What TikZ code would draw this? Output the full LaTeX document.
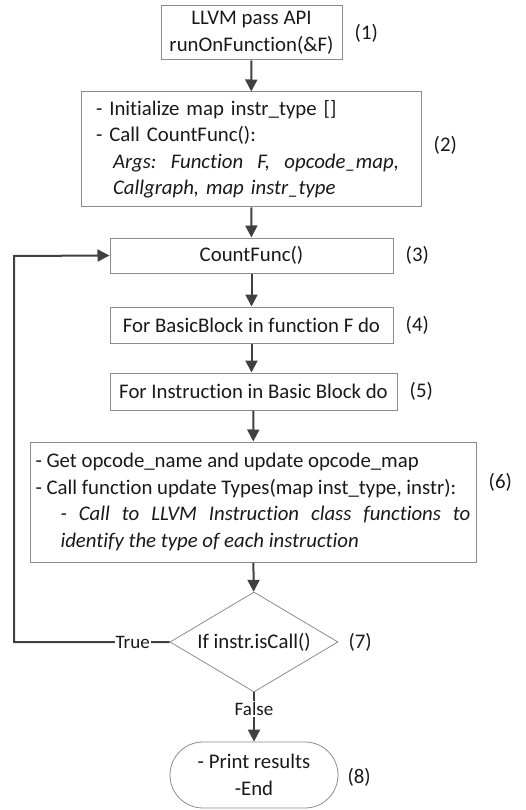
\documentclass[tikz,border=0pt]{standalone}
\usepackage{fontspec}
\setmainfont{Carlito}[Ligatures=NoCommon]
\usetikzlibrary{positioning,shapes.geometric,shapes.misc,arrows.meta}

\definecolor{arrowgray}{HTML}{404040}
\definecolor{boxgray}{HTML}{8C8C8C}

\tikzset{
  every node/.style={font=\fontsize{20.8}{26.5}\selectfont, text=black!90},
  procbox/.style={draw=boxgray, line width=1pt, inner sep=0pt, align=center},
  listbox/.style={procbox, align=left, inner xsep=7pt},
  decisionbox/.style={draw=boxgray, line width=0.8pt, diamond, shape aspect=1.68, inner sep=0pt},
  termbox/.style={draw=boxgray, line width=0.8pt, rounded rectangle, inner sep=0pt, align=center},
  steplabel/.style={inner sep=0pt, right=12pt of #1},
  flowarrow/.style={draw=arrowgray, line width=2pt, -{Triangle[length=12pt,width=12pt]}},
  branchtext/.style={fill=white, inner sep=1pt, font=\fontsize{19}{22}\selectfont}
}

\begin{document}
\begin{tikzpicture}[x=1pt,y=-1pt]
\useasboundingbox (0,0) rectangle (526,810);

% process boxes
\node[procbox, minimum width=181pt, minimum height=54pt] (apibox) at (251.5,33)
  {LLVM pass API\\runOnFunction(\&F)};
\node[listbox, minimum width=340pt, minimum height=115pt, text width=310pt, inner xsep=15pt] (initbox) at (251,149.5)
  {- Initialize map instr\_type []\\
   - Call CountFunc():\\
   \hspace*{17pt}\makebox[286pt][l]{\itshape Args:\hfill Function\hfill F,\hfill opcode\_map,}\\
   \hspace*{17pt}{\itshape Callgraph, map instr\_type}};
\node[procbox, minimum width=283pt, minimum height=35pt] (countbox) at (251.5,255.5) {CountFunc()};
\node[procbox, minimum width=283pt, minimum height=36pt] (bbbox) at (251.5,325) {For BasicBlock in function F do};
\node[procbox, minimum width=287pt, minimum height=37pt] (instrbox) at (253.5,391.5) {For Instruction in Basic Block do};
\node[listbox, minimum width=446pt, minimum height=120pt, inner xsep=4pt] (typebox) at (253,502)
  {- Get opcode\_name and update opcode\_map\\
   - Call function update Types(map inst\_type, instr):\\
   \hspace*{25pt}\makebox[410pt][l]{\itshape -\hfill Call\hfill to\hfill LLVM\hfill Instruction\hfill class\hfill functions\hfill to}\\
   \hspace*{25pt}{\itshape identify the type of each instruction}};

% decision and end
\node[decisionbox, minimum width=168pt, minimum height=100pt] (callcheck) at (254,642) {If instr.isCall()};
\node[termbox, minimum width=168pt, minimum height=66pt] (endbox) at (254,775) {- Print results\\-End};

% step numbers
\node[steplabel=apibox] {(1)};
\node[steplabel=initbox, yshift=4pt] {(2)};
\node[steplabel=countbox] {(3)};
\node[steplabel=bbbox] {(4)};
\node[steplabel=instrbox] {(5)};
\node[steplabel=typebox, yshift=20pt] {(6)};
\node[steplabel=callcheck, right=10pt of callcheck] {(7)};
\node[steplabel=endbox, right=9pt of endbox, yshift=-2pt] {(8)};

% connectors
\draw[flowarrow] (apibox) -- (initbox);
\draw[flowarrow] (initbox) -- (countbox);
\draw[flowarrow] (countbox) -- (bbbox);
\draw[flowarrow] (bbbox) -- (bbbox |- instrbox.north);
\draw[flowarrow] (instrbox) -- (typebox);
\draw[flowarrow] (typebox) -- (callcheck);
\draw[flowarrow] (callcheck) -- node[branchtext, pos=0.34] {False} (endbox);
\coordinate (loopcorner) at (14,256);
\draw[flowarrow] (callcheck.west) -- node[branchtext, pos=0.237] {True} (callcheck.west -| loopcorner)
  -- (loopcorner) -- (countbox.west);
\end{tikzpicture}
\end{document}
